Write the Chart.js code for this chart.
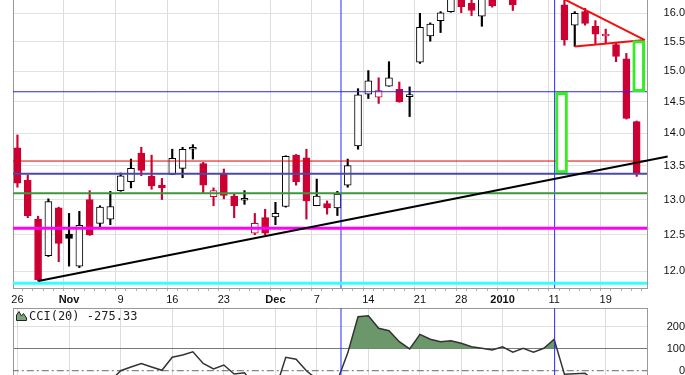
<!DOCTYPE html>
<html lang="en">
<head>
  <meta charset="UTF-8">
  <title>Daily candles with CCI</title>
  <script src="https://cdn.jsdelivr.net/npm/chart.js"></script>
  <style>
    html, body {margin: 0; padding: 0; background: #fff; overflow: hidden;}
    #wrap {position: relative; width: 685px; height: 375px;}
    #price {position: absolute; left: 0; top: 0;}
    #cci {position: absolute; left: 0; top: 308px;}
    #cciLabel {position: absolute; left: 16px; top: 309px; font: 12px "DejaVu Sans Mono", monospace; color: #222; white-space: nowrap;}
    #cciLabel svg {vertical-align: -1px; margin-right: 2px;}
  </style>
</head>
<body>
<div id="wrap">
  <canvas id="price" width="685" height="308"></canvas>
  <canvas id="cci" width="685" height="67"></canvas>
  <div id="cciLabel"><svg width="11" height="11" viewBox="0 0 11 11"><path d="M0.5 10.5 L0.5 5 L3 1.5 L5.5 6 L7.5 3.5 L10.5 8 L10.5 10.5 Z" fill="#7fa37f" stroke="#222" stroke-width="1"/></svg>CCI(20) -275.33</div>
</div>
<script>
// trading days, Oct 26 2009 .. Jan 22 2010
const days = [
  '10-26','10-27','10-28','10-29','10-30',
  '11-02','11-03','11-04','11-05','11-06',
  '11-09','11-10','11-11','11-12','11-13',
  '11-16','11-17','11-18','11-19','11-20',
  '11-23','11-24','11-25','11-27',
  '11-30','12-01','12-02','12-03','12-04',
  '12-07','12-08','12-09','12-10','12-11',
  '12-14','12-15','12-16','12-17','12-18',
  '12-21','12-22','12-23','12-24',
  '12-28','12-29','12-30','12-31',
  '01-04','01-05','01-06','01-07','01-08',
  '01-11','01-12','01-13','01-14','01-15',
  '01-19','01-20','01-21','01-22'
];

const open = [
  13.77, 13.28, 12.72, 12.21, 12.88, 12.51, 12.07, 13.00, 12.66, 12.72,
  13.13, 13.26, 13.69, 13.34, 13.21, 13.37, 13.46, 13.75, 13.53, 13.04,
  13.39, 13.05, 12.99, 12.52, 12.74, 12.75, 12.90, 13.66, 13.62, 12.91,
  12.94, 12.88, 13.21, 13.80, 14.62, 14.57, 14.75, 14.70, 14.58, 15.15,
  15.60, 15.87, 16.03, 16.40, 16.18, 15.95, 16.35, 16.30, 16.45, 16.30,
  16.45, 16.35, 16.55, 16.15, 15.79, 16.03, 15.77, 15.60, 15.45, 15.21,
  14.18
];
const high = [
  13.97, 13.36, 12.76, 13.01, 12.89, 12.80, 12.83, 13.13, 12.91, 13.12,
  13.39, 13.60, 13.78, 13.66, 13.31, 13.75, 13.78, 13.82, 13.55, 13.17,
  13.45, 13.08, 13.13, 12.80, 12.86, 12.96, 13.65, 13.67, 13.75, 13.30,
  12.98, 13.12, 13.60, 14.71, 15.01, 14.89, 15.16, 14.82, 14.74, 16.00,
  15.83, 16.03, 16.35, 16.45, 16.30, 16.35, 16.40, 16.60, 16.50, 16.50,
  16.55, 16.55, 16.70, 16.35, 16.03, 16.09, 15.87, 15.72, 15.49, 15.30,
  14.19
];
const low = [
  13.18, 12.74, 11.87, 12.20, 12.13, 12.07, 12.05, 12.49, 12.61, 12.64,
  13.12, 13.17, 13.35, 13.15, 13.00, 13.37, 13.32, 13.60, 13.09, 12.91,
  13.01, 12.74, 12.93, 12.50, 12.50, 12.64, 12.89, 13.21, 12.72, 12.91,
  12.79, 12.77, 13.18, 13.75, 14.55, 14.47, 14.75, 14.49, 14.26, 15.13,
  15.51, 15.66, 16.02, 16.01, 15.96, 15.77, 16.11, 16.28, 16.05, 16.28,
  16.28, 16.30, 16.40, 15.44, 15.42, 15.79, 15.47, 15.47, 15.16, 14.22,
  13.34
];
const close = [
  13.24, 12.77, 11.89, 12.97, 12.38, 12.45, 12.63, 12.50, 12.89, 12.90,
  13.35, 13.46, 13.43, 13.20, 13.17, 13.61, 13.75, 13.76, 13.21, 13.13,
  13.06, 12.91, 13.00, 12.66, 12.52, 12.80, 13.64, 13.26, 12.98, 13.05,
  12.88, 13.08, 13.50, 14.61, 14.84, 14.68, 14.89, 14.50, 14.59, 15.75,
  15.81, 16.01, 16.30, 16.12, 16.05, 16.28, 16.13, 16.50, 16.15, 16.40,
  16.30, 16.45, 16.60, 15.53, 16.00, 15.82, 15.63, 15.62, 15.25, 14.23,
  13.39
];
const priorClose = 14.05;

const cci = [
  -120, -150, -210, -170, -180, -150, -140, -95, -70, -48,
  0, 17, 33, 17, 2, 61, 71, 86, 33, 8,
  26, -15, -9, -70, -95, -86, 61, 52, 0, -39,
  -60, -45, 80, 245, 250, 193, 182, 132, 99, 165,
  143, 132, 136, 125, 109, 102, 94, 109, 84, 102,
  84, 102, 143, -16, -14, -12, -50, -60, -110, -200,
  -275.33
];

// axis labels
const tickIdx = [0, 5, 10, 15, 20, 25, 29, 34, 39, 43, 47, 52, 57];
const tickText = ['26', 'Nov', '9', '16', '23', 'Dec', '7', '14', '21', '28', '2010', '11', '19'];
const boldIdx = [5, 25, 47];
const priceTicks = [12, 12.5, 13, 13.5, 14, 14.5, 15, 15.5, 16];
const cciTicks = [0, 100, 200];

// drawn studies
const hLevels = [14.66, 13.57, 13.38, 13.09, 12.59, 11.84];
const vMarks = [31.35, 52.05];
const trendX = [2.03, 63.0];
const trendY = [11.87, 13.64];
const pennantTopX = [52.9, 60.8];
const pennantTopY = [16.26, 15.53];
const pennantLowX = [54.0, 60.8];
const pennantLowY = [15.42, 15.53];
const boxX = [52.72, 60.2];
const boxLow = [13.39, 14.66];
const boxHigh = [14.65, 15.52];
const cciLevels = [0];

// ---- styles
const RED = '#cc0033';
const hStyle = [
  {c: '#2a2ae6', w: 1}, {c: '#dd0000', w: 1}, {c: '#4a4aa6', w: 2},
  {c: '#3c963c', w: 2}, {c: '#ff00ff', w: 3}, {c: '#33ffff', w: 3}
];
const xMin = -0.43, xMax = 61.0;
const yMin = 11.779, yMax = 16.239;
const FONT = '"Liberation Sans", Arial, sans-serif';

const candleColor = close.map((c, i) => c < (i ? close[i - 1] : priorClose) ? RED : '#000');
const bodyFill = close.map((c, i) => c < open[i] ? candleColor[i] : '#fff');

function seg(xs, ys) { return xs.map((x, i) => ({x: x, y: ys[i]})); }

const priceSets = [];
// wicks
priceSets.push({
  type: 'bar', order: 11, grouped: false,
  data: days.map((d, i) => ({x: i, y: [low[i], high[i]]})),
  backgroundColor: candleColor, borderWidth: 0, barThickness: 1.5
});
// bodies
priceSets.push({
  type: 'bar', order: 10, grouped: false,
  data: days.map((d, i) => ({x: i, y: [Math.min(open[i], close[i]), Math.max(open[i], close[i])]})),
  backgroundColor: bodyFill, borderColor: candleColor, borderWidth: 1,
  borderSkipped: false, barThickness: 7, minBarLength: 2
});
hLevels.forEach((lv, k) => {
  priceSets.push({
    type: 'line', order: 2, data: seg([-2, 63], [lv, lv]),
    borderColor: hStyle[k].c, borderWidth: hStyle[k].w, pointRadius: 0, fill: false
  });
});
vMarks.forEach(x => {
  priceSets.push({
    type: 'line', order: 2, data: seg([x, x], [10, 18]),
    borderColor: '#2a2aff', borderWidth: 1, pointRadius: 0, fill: false
  });
});
priceSets.push({
  type: 'line', order: 1, data: seg(trendX, trendY), clip: false,
  borderColor: '#000', borderWidth: 2, pointRadius: 0, fill: false
});
priceSets.push({
  type: 'line', order: 1, data: seg(pennantTopX, pennantTopY),
  borderColor: '#f01010', borderWidth: 2, pointRadius: 0, fill: false
});
priceSets.push({
  type: 'line', order: 1, data: seg(pennantLowX, pennantLowY),
  borderColor: '#f01010', borderWidth: 2, pointRadius: 0, fill: false
});
priceSets.push({
  type: 'bar', order: 0, grouped: false,
  data: boxX.map((x, i) => ({x: x, y: [boxLow[i], boxHigh[i]]})),
  backgroundColor: '#fff', borderColor: '#33ee22', borderWidth: 3,
  borderSkipped: false, barThickness: 12
});

new Chart(document.getElementById('price'), {
  type: 'bar',
  data: {datasets: priceSets},
  options: {
    responsive: false,
    animation: false,
    layout: {padding: {left: 13, right: 0, top: 0, bottom: 0}},
    plugins: {legend: {display: false}, tooltip: {enabled: false}},
    scales: {
      x: {
        type: 'linear', min: xMin, max: xMax, offset: false,
        afterBuildTicks: s => { s.ticks = days.map((d, i) => ({value: i})); },
        afterFit: s => { s.height = 20; s.paddingLeft = 0; s.paddingRight = 0; },
        ticks: {
          autoSkip: false, maxRotation: 0, padding: 2, color: '#111',
          callback: v => { const k = tickIdx.indexOf(v); return k >= 0 ? tickText[k] : ''; },
          font: ctx => ({family: FONT, size: 11, weight: boldIdx.includes(ctx.tick && ctx.tick.value) ? 'bold' : 'normal'})
        },
        grid: {
          color: ctx => tickIdx.includes(ctx.tick && ctx.tick.value) ? '#dcdcdc' : 'rgba(0,0,0,0)',
          tickColor: '#b0b0b0', tickLength: 3
        },
        border: {color: '#999'}
      },
      y: {
        type: 'logarithmic', position: 'right', min: yMin, max: yMax,
        afterBuildTicks: s => { s.ticks = priceTicks.map(v => ({value: v})); },
        afterFit: s => { s.width = 38; s.paddingTop = 0; s.paddingBottom = 0; },
        ticks: {callback: v => Number(v).toFixed(1), crossAlign: 'far', padding: 3, color: '#111', font: {family: FONT, size: 11}},
        grid: {color: '#e2e2e2', drawTicks: false},
        border: {color: '#999'}
      },
      yl: {
        type: 'linear', position: 'left',
        ticks: {display: false}, grid: {drawOnChartArea: false, drawTicks: false},
        border: {color: '#999'}
      }
    }
  }
});

// ---- CCI panel
const cciSets = [{
  data: cci.map((v, i) => ({x: i, y: v})), order: 2,
  borderColor: '#333', borderWidth: 1.5, pointRadius: 0, tension: 0,
  fill: {target: {value: 100}, above: '#6b976b', below: 'rgba(0,0,0,0)'}
}];
cciLevels.forEach(lv => {
  cciSets.push({
    data: seg([-2, 63], [lv, lv]), order: 3,
    borderColor: '#666', borderWidth: 1, borderDash: [7, 3, 2, 3], pointRadius: 0, fill: false
  });
});
vMarks.forEach(x => {
  cciSets.push({
    data: seg([x, x], [-500, 500]), order: 0,
    borderColor: '#2a2aff', borderWidth: 1, pointRadius: 0, fill: false
  });
});

new Chart(document.getElementById('cci'), {
  type: 'line',
  data: {datasets: cciSets},
  options: {
    responsive: false,
    animation: false,
    layout: {padding: {left: 13, right: 0, top: 0, bottom: 0}},
    plugins: {legend: {display: false}, tooltip: {enabled: false}},
    scales: {
      x: {
        type: 'linear', min: xMin, max: xMax,
        afterBuildTicks: s => { s.ticks = tickIdx.map(v => ({value: v})); },
        afterFit: s => { s.height = 0; s.paddingLeft = 0; s.paddingRight = 0; },
        ticks: {display: false},
        grid: {color: '#dcdcdc', drawTicks: false},
        border: {display: false}
      },
      x2: {
        type: 'linear', position: 'top', min: xMin, max: xMax,
        afterFit: s => { s.height = 0; s.paddingLeft = 0; s.paddingRight = 0; },
        ticks: {display: false}, grid: {drawOnChartArea: false, drawTicks: false},
        border: {color: '#999'}
      },
      y: {
        type: 'linear', position: 'right', min: -19.5, max: 285,
        afterBuildTicks: s => { s.ticks = cciTicks.map(v => ({value: v})); },
        afterFit: s => { s.width = 38; s.paddingTop = 0; s.paddingBottom = 0; },
        ticks: {callback: v => String(v), crossAlign: 'far', padding: 6, color: '#111', font: {family: FONT, size: 11}},
        grid: {color: ctx => ctx.tick && ctx.tick.value === 100 ? '#777' : (ctx.tick && ctx.tick.value === 200 ? '#e0e0e0' : 'rgba(0,0,0,0)'), drawTicks: false},
        border: {color: '#999'}
      },
      yl: {
        type: 'linear', position: 'left',
        ticks: {display: false}, grid: {drawOnChartArea: false, drawTicks: false},
        border: {color: '#999'}
      }
    }
  }
});
</script>
</body>
</html>
